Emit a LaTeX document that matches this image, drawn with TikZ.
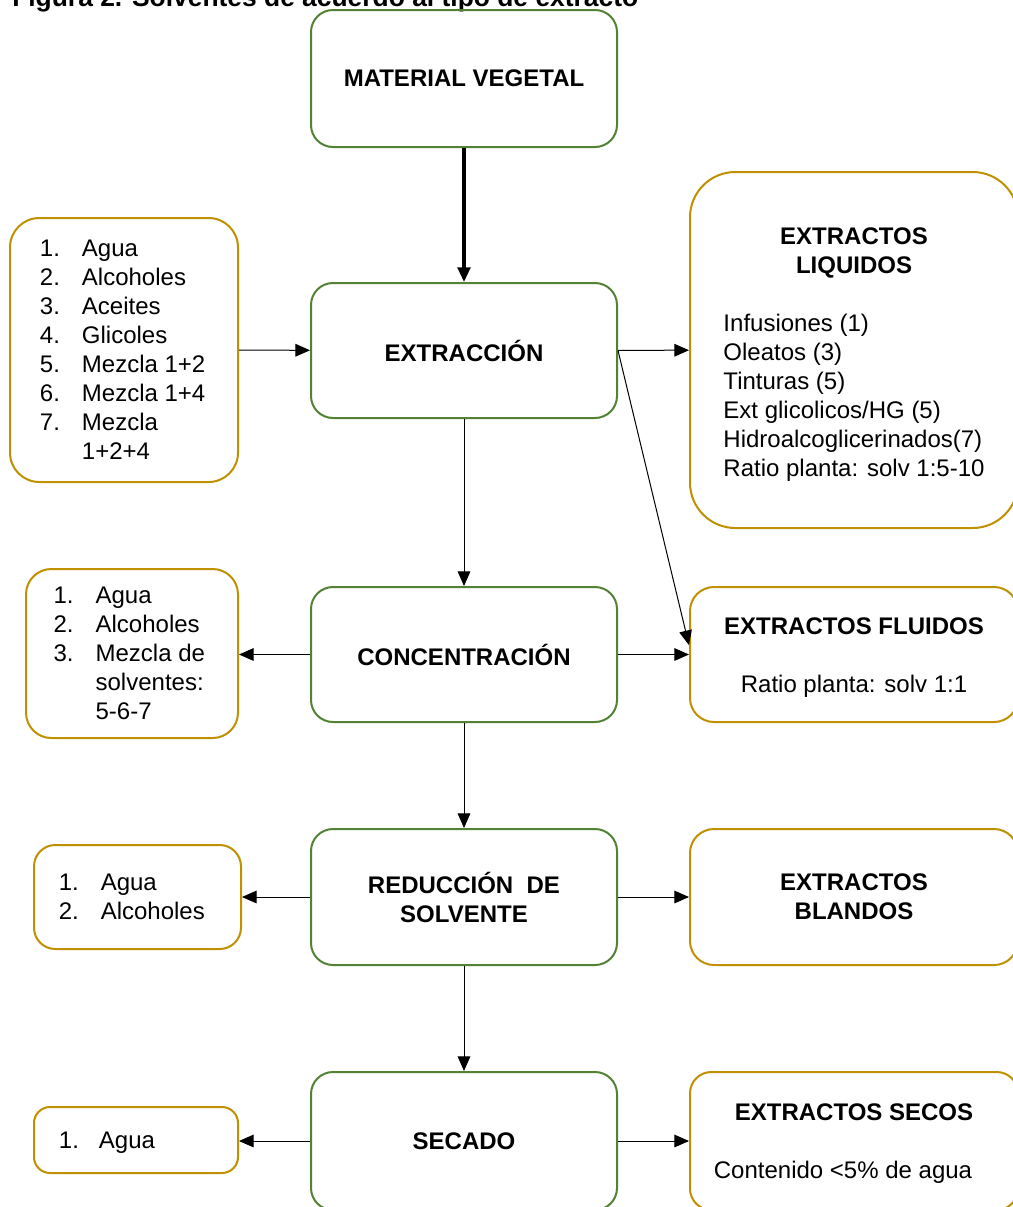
\documentclass[tikz,border=0pt]{standalone}
\usepackage{fontspec}
\setmainfont{Liberation Sans}
\usetikzlibrary{arrows.meta}
\definecolor{boxgreen}{RGB}{84,130,53}
\definecolor{boxgold}{RGB}{191,144,0}
\newcommand{\itm}[2]{\makebox[31.5pt][l]{#1}#2}
\newcommand{\hd}[1]{\multicolumn{1}{@{}c@{}}{\bfseries #1}}
% lower a block without changing the size it reports
\newcommand{\dropblock}[2]{\raisebox{-#1}[\height][\depth]{#2}}
\begin{document}
\begin{tikzpicture}[x=0.75pt,y=-0.75pt,
  every node/.style={font=\fontsize{18pt}{21.75pt}\selectfont, inner sep=0pt},
  stagebox/.style={draw=boxgreen, line width=1.5pt, rounded corners=16.5pt,
    minimum width=229.5pt, align=center, font=\fontsize{18pt}{21.75pt}\selectfont\bfseries},
  solvbox/.style={draw=boxgold, line width=1.5pt, rounded corners=19pt, align=left},
  prodbox/.style={draw=boxgold, line width=1.5pt, rounded corners=18pt,
    minimum width=246pt, align=center},
  arr/.style={line width=0.75pt, -{Triangle[length=11pt,width=9.5pt]}},
  thickarr/.style={line width=2.4pt, -{Triangle[length=11pt,width=9.5pt]}}]
\clip (0,0) rectangle (1013,1207);
\fill[white] (0,0) rectangle (1013,1207);

% caption line at the top
\node[anchor=base west, font=\fontsize{19.8pt}{24pt}\selectfont\bfseries] (title) at (12,6)
  {Figura 2. Solventes de acuerdo al tipo de extracto};

% process stages
\node[stagebox, minimum height=102.75pt] (mv)  at (464,78.5)  {MATERIAL VEGETAL};
\node[stagebox, minimum height=101.25pt] (ext) at (464,350.5) {EXTRACCIÓN};
\node[stagebox, minimum height=101.25pt] (con) at (464,654.5) {CONCENTRACIÓN};
\node[stagebox, minimum height=102pt]    (red) at (464,897)   {REDUCCIÓN\ \ DE\\SOLVENTE};
\node[stagebox, minimum height=103.5pt]  (sec) at (464,1141)  {SECADO};

% solvents
\node[solvbox, minimum width=171pt, minimum height=198pt, rounded corners=22pt] (l1) at (124,350) {%
  \hspace*{-2pt}\itm{1.}{Agua}\\ \hspace*{-2pt}\itm{2.}{Alcoholes}\\ \hspace*{-2pt}\itm{3.}{Aceites}\\
  \hspace*{-2pt}\itm{4.}{Glicoles}\\ \hspace*{-2pt}\itm{5.}{Mezcla 1+2}\\ \hspace*{-2pt}\itm{6.}{Mezcla 1+4}\\
  \hspace*{-2pt}\itm{7.}{Mezcla}\\ \hspace*{-2pt}\itm{}{1+2+4}};
\node[solvbox, minimum width=159pt, minimum height=126.75pt] (l2) at (132,653.5) {%
  \hspace*{-4pt}\itm{1.}{Agua}\\ \hspace*{-4pt}\itm{2.}{Alcoholes}\\ \hspace*{-4pt}\itm{3.}{Mezcla de}\\
  \hspace*{-4pt}\itm{}{solventes:}\\ \hspace*{-4pt}\itm{}{5-6-7}};
\node[solvbox, minimum width=155.25pt, minimum height=78pt, rounded corners=16pt] (l3) at (137.5,897) {%
  \hspace*{-8.5pt}\itm{1.}{Agua}\\ \hspace*{-8.5pt}\itm{2.}{Alcoholes}};
\node[solvbox, minimum width=153pt, minimum height=49.5pt, rounded corners=12pt] (l4) at (136,1140) {%
  \dropblock{2.25pt}{\makebox[30pt][l]{1.}Agua\hspace*{43.5pt}}};

% products
\node[prodbox, minimum height=267pt, rounded corners=34pt] (r1) at (854,350) {%
  \dropblock{3.75pt}{\begin{tabular}{@{}l@{}}
  \hd{EXTRACTOS}\\ \hd{LIQUIDOS}\\ \\
  Infusiones (1)\\ Oleatos (3)\\ Tinturas (5)\\ Ext glicolicos/HG (5)\\
  Hidroalcoglicerinados(7)\\ Ratio planta: solv 1:5-10
  \end{tabular}}};
\node[prodbox, minimum height=101.25pt] (r2) at (854,654.5) {%
  \dropblock{2.25pt}{\begin{tabular}{@{}c@{}}
  \textbf{EXTRACTOS FLUIDOS}\\ \\ Ratio planta: solv 1:1
  \end{tabular}}};
\node[prodbox, minimum height=102pt] (r3) at (854,897) {%
  \textbf{EXTRACTOS}\\ \textbf{BLANDOS}};
\node[prodbox, minimum height=103.5pt, rounded corners=16pt] (r4) at (854,1141) {%
  \dropblock{2.25pt}{\begin{tabular}{@{}c@{}}
  \textbf{EXTRACTOS SECOS}\\ \\ Contenido <5\% de agua\hspace*{16.5pt}
  \end{tabular}}};

% connectors
\draw[thickarr] (mv) -- (ext);
\draw[arr] (l1) -- (ext);
\draw[arr] (ext) -- (r1);
\draw[arr] (ext.east) -- ([yshift=7pt]r2.west);
\draw[arr] (ext) -- (con);
\draw[arr] (con.west) -- (con.west -| l2.east);
\draw[arr] (con.east) -- (con.east -| r2.west);
\draw[arr] (con) -- (red);
\draw[arr] (red.west) -- (red.west -| l3.east);
\draw[arr] (red.east) -- (red.east -| r3.west);
\draw[arr] (red) -- (sec);
\draw[arr] (sec.west) -- (sec.west -| l4.east);
\draw[arr] (sec.east) -- (sec.east -| r4.west);
\end{tikzpicture}
\end{document}
